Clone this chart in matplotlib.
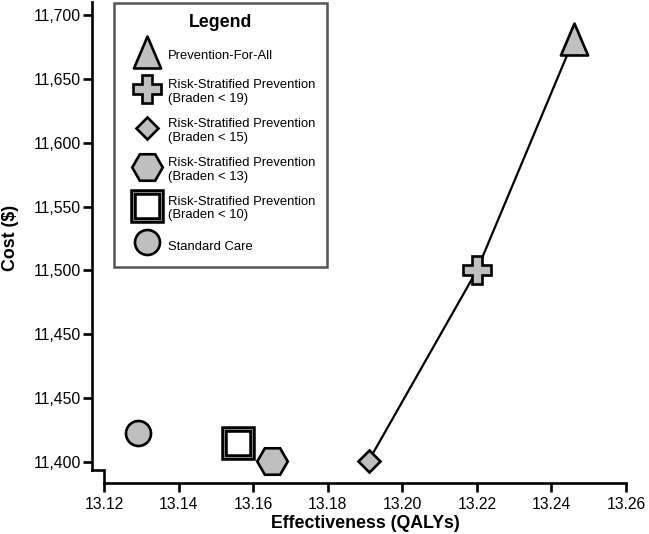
import matplotlib
matplotlib.use("Agg")
import matplotlib.pyplot as plt
from matplotlib.path import Path

plt.rcParams["font.family"] = ["Liberation Sans", "DejaVu Sans"]

# strategies: effectiveness (QALYs) and cost, in axis units
labels = ["Prevention-For-All",
          "Risk-Stratified Prevention\n(Braden < 19)",
          "Risk-Stratified Prevention\n(Braden < 15)",
          "Risk-Stratified Prevention\n(Braden < 13)",
          "Risk-Stratified Prevention\n(Braden < 10)",
          "Standard Care"]
qalys = [13.246, 13.220, 13.191, 13.165, 13.156, 13.129]
costs = [11681, 11500, 11351, 11351, 11365, 11373]

# frontier goes diamond -> plus -> triangle
frontier = [2, 1, 0]

xticks = [13.12, 13.14, 13.16, 13.18, 13.20, 13.22, 13.24, 13.26]
yticks = [11350, 11400, 11450, 11500, 11550, 11600, 11650, 11700]
ytick_labels = ["11,400", "11,450", "11,450", "11,500", "11,550", "11,600", "11,650", "11,700"]

W, H = 649, 534
fig = plt.figure(figsize=(W / 100, H / 100), dpi=100)
ax = fig.add_axes([92 / W, (H - 483) / H, (640 - 92) / W, (483 - 2) / H])

xlo, xhi = 13.12 - 12 / 3725, 13.26 + 14 / 3725
ylo, yhi = 11700 - 468 / 63.86 * 50, 11700 + 13 / 63.86 * 50
ax.set_xlim(xlo, xhi)
ax.set_ylim(ylo, yhi)

gray = "#bfbfbf"
ew = 1.9

# tall narrow triangle like the original
tri = Path([(0, 1), (-0.85, -1), (0.85, -1), (0, 1)], closed=True)

ax.plot([qalys[i] for i in frontier], [costs[i] for i in frontier],
        color="black", lw=1.6, zorder=2)

styles = [
    dict(marker=tri, ms=23),
    dict(marker="P", ms=20),
    dict(marker="D", ms=11.5),
    dict(marker="H", ms=22),
    None,
    dict(marker="o", ms=18),
]

handles = []
for i, st in enumerate(styles):
    if st is None:
        h1, = ax.plot(qalys[i], costs[i], ls="none", marker="s", ms=20.5,
                      mfc="white", mec="black", mew=4.7, zorder=3)
        h2, = ax.plot(qalys[i], costs[i], ls="none", marker="s", ms=20.5,
                      mfc="none", mec="#8a8a8a", mew=0.7, zorder=4)
        handles.append((h1, h2))
    else:
        h, = ax.plot(qalys[i], costs[i], ls="none", mfc=gray, mec="black",
                     mew=ew, zorder=3, **st)
        handles.append(h)

ax.spines["top"].set_visible(False)
ax.spines["right"].set_visible(False)
for s in ["left", "bottom"]:
    ax.spines[s].set_linewidth(1.9)
ybreak = 11700 - 455 / 63.86 * 50
ax.spines["left"].set_bounds(ybreak, yhi)
ax.spines["bottom"].set_bounds(13.12, 13.26)
# little step joining the two spines
ax.plot([xlo, 13.12, 13.12], [ybreak, ybreak, ylo], color="black",
        lw=1.9, clip_on=False, solid_joinstyle="miter", zorder=5)

ax.set_xticks(xticks)
ax.set_xticklabels([f"{v:.2f}" for v in xticks])
ax.set_yticks(yticks)
ax.set_yticklabels(ytick_labels)
ax.tick_params(direction="out", length=6.5, width=1.9, labelsize=11.3)
ax.tick_params(axis="y", pad=1.5)
ax.tick_params(axis="x", pad=3.5)

ax.set_xlabel("Effectiveness (QALYs)", fontsize=12.8, fontweight="bold")
ax.set_ylabel("Cost ($)", fontsize=12.8, fontweight="bold")
ax.xaxis.set_label_coords(0.498, -0.066)
ax.yaxis.set_label_coords(-0.133, 0.51)

leg = ax.legend(handles, labels, loc="upper left",
                bbox_to_anchor=(114 / W, 1 - 3 / H), bbox_transform=fig.transFigure,
                borderaxespad=0, fontsize=9.4, title="Legend",
                title_fontproperties={"weight": "bold", "size": 12.8},
                numpoints=1, handlelength=3.3, handletextpad=0.0,
                handleheight=2.2, labelspacing=1.0, borderpad=0.85,
                fancybox=False, framealpha=1, edgecolor="#555555")
leg.get_frame().set_linewidth(1.8)

fig.savefig("out.png", dpi=100)
